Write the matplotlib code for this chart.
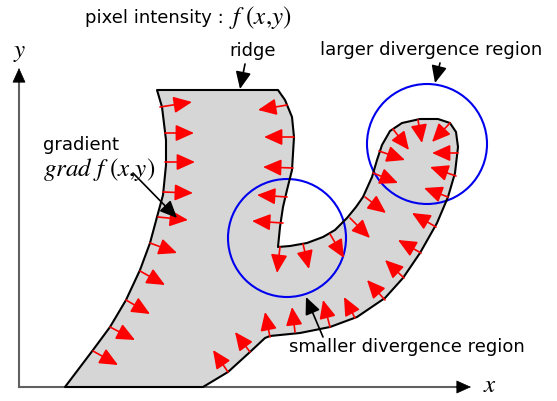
import matplotlib
matplotlib.use('Agg')
import matplotlib.pyplot as plt
from matplotlib.patches import Polygon, Circle

plt.rcParams['mathtext.fontset'] = 'stix'

# Outline of the ridge region (pixel coordinates, y grows downward)
outline_x = [157, 278, 285, 292, 294, 292, 287, 283, 280, 278,
             290, 307, 323, 335, 347, 356, 363,
             372, 377, 382, 390, 402, 420, 438, 450, 456, 458, 455, 448, 437,
             420, 403, 385, 357, 330, 300, 270, 265, 250, 228, 203,
             65, 93, 110, 126, 140, 150, 157, 163, 166, 166, 162]
outline_y = [90, 90, 100, 117, 137, 170, 190, 207, 227, 247,
             246, 243, 237, 230, 218, 207, 197,
             177, 160, 145, 131, 123, 119, 119, 123, 132, 147, 173, 197, 223,
             253, 278, 298, 317, 327, 333, 336, 338, 352, 372, 387,
             387, 350, 327, 300, 270, 243, 217, 195, 165, 140, 107]

# Gradient arrows: tail x, tail y, tip x, tip y
grad_arrows = [
    # left edge of the left arm
    (160, 107, 192, 102), (165, 133, 194, 133), (165, 162, 195, 162),
    (163, 192, 193, 193), (158, 217, 188, 220), (150, 243, 177, 253),
    (140, 271, 165, 285), (126, 300, 150, 314), (110, 327, 135, 340),
    (93, 351, 118, 365),
    # right edge of the left arm
    (287, 105, 258, 110), (294, 137, 264, 137), (293, 168, 263, 167),
    (287, 197, 257, 195), (283, 223, 252, 221),
    # inner notch
    (280, 247, 277, 273), (303, 244, 309, 269), (330, 234, 344, 258),
    # inner side of the hook
    (350, 218, 370, 238), (365, 197, 386, 213), (373, 173, 398, 183),
    (379, 151, 405, 160), (393, 129, 409, 150), (418, 120, 422, 143),
    (450, 123, 432, 142),
    # outer side of the hook
    (458, 153, 432, 153), (456, 176, 430, 167), (448, 197, 424, 188),
    (436, 227, 412, 213), (421, 253, 398, 240), (404, 278, 385, 260),
    (385, 300, 367, 280), (355, 318, 344, 297),
    # bottom edge
    (330, 327, 323, 300), (295, 332, 292, 307), (270, 337, 265, 312),
    (250, 352, 235, 332), (228, 372, 213, 350),
]

# Divergence circles: centre x, centre y, radius
circles = [(287, 238, 59), (427, 144, 60)]

# Label pointers: tail x, tail y, tip x, tip y
pointers = [(245, 64, 240, 89), (133, 173, 177, 218),
            (440, 63, 435, 83), (323, 337, 306, 297)]

fig = plt.figure(figsize=(5.57, 4.01), dpi=100)
ax = fig.add_axes([0, 0, 1, 1])
ax.set_xlim(0, 557)
ax.set_ylim(401, 0)
ax.axis('off')

head = '-|>,head_length=0.8,head_width=0.36'

# coordinate axes
ax.plot([19, 19], [387, 80], color='#606060', lw=1.5, zorder=1)
ax.plot([19, 458], [387, 387], color='#606060', lw=1.5, zorder=1)
for tail, tip in [((19, 82), (19, 68)), ((456, 387), (471, 387))]:
    ax.annotate('', xy=tip, xytext=tail,
                arrowprops=dict(arrowstyle=head, color='black', lw=0.5,
                                mutation_scale=12, shrinkA=0, shrinkB=0))

# the ridge region
pts = list(zip(outline_x, outline_y))
ax.add_patch(Polygon(pts, closed=True, facecolor='#d6d6d6', edgecolor='none', zorder=2))

for cx, cy, r in circles:
    ax.add_patch(Circle((cx, cy), r, fill=False, edgecolor='#0000ee', lw=1.5, zorder=3))

ax.add_patch(Polygon(pts, closed=True, fill=False, edgecolor='black', lw=1.5,
                     joinstyle='round', zorder=4))

for tx, ty, hx, hy in grad_arrows:
    ax.annotate('', xy=(hx, hy), xytext=(tx, ty),
                arrowprops=dict(arrowstyle=head, color='red', lw=1.2,
                                mutation_scale=14, shrinkA=0, shrinkB=0), zorder=5)

for tx, ty, hx, hy in pointers:
    ax.annotate('', xy=(hx, hy), xytext=(tx, ty),
                arrowprops=dict(arrowstyle=head, color='black', lw=1.2,
                                mutation_scale=13, shrinkA=0, shrinkB=0), zorder=6)

# labels
sans = dict(family='DejaVu Sans', fontsize=13, va='baseline', ha='left')
ax.text(85, 23, 'pixel intensity :', **sans)
ax.text(229, 56, 'ridge', **sans)
ax.text(320, 55, 'larger divergence region', **sans)
ax.text(43, 150, 'gradient', **sans)
ax.text(289, 352, 'smaller divergence region', **sans)

ax.text(229, 24, r'$f\ (x{,}y)$', fontsize=18, va='baseline', ha='left')
ax.text(43, 176, r'$grad\ f\ (x{,}y)$', fontsize=18, va='baseline', ha='left')
ax.text(20, 57, r'$y$', fontsize=18, va='baseline', ha='center')
ax.text(483, 392, r'$x$', fontsize=18, va='baseline', ha='left')

fig.savefig('out.png', dpi=100)
